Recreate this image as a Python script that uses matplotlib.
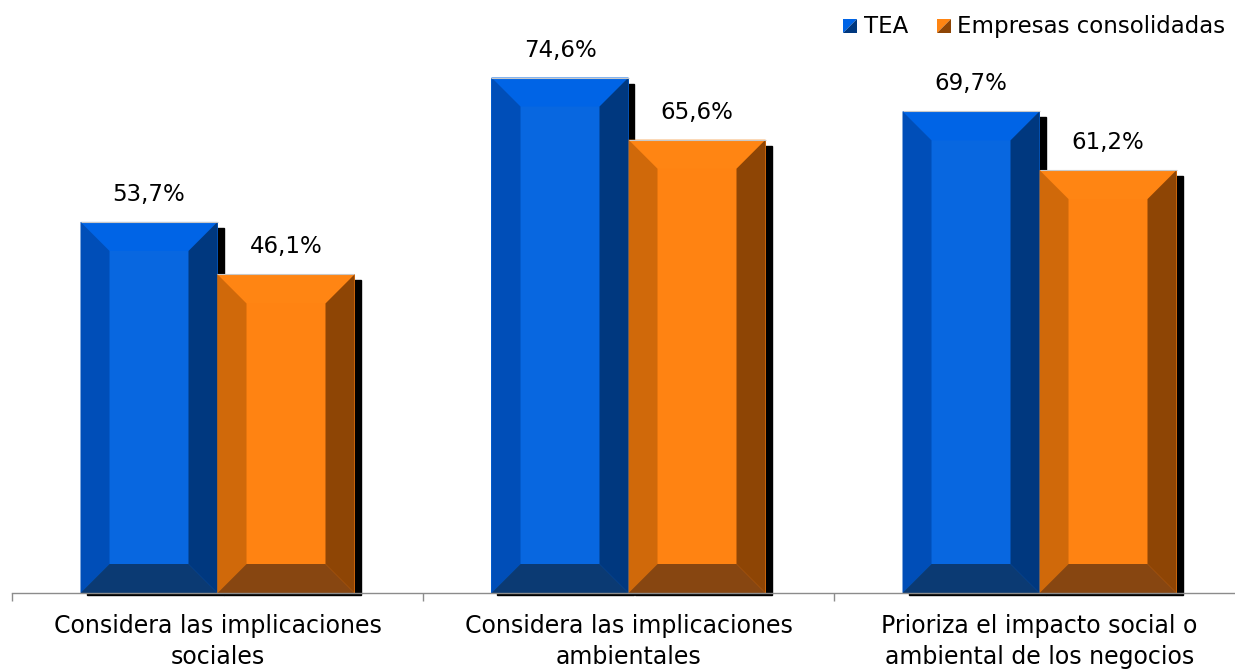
import matplotlib
matplotlib.use("Agg")
import matplotlib.pyplot as plt
from matplotlib.patches import Polygon, Rectangle
import numpy as np

categories = ["Considera las implicaciones\nsociales",
              "Considera las implicaciones\nambientales",
              "Prioriza el impacto social o\nambiental de los negocios"]
series_names = ["TEA", "Empresas consolidadas"]
tea = [53.7, 74.6, 69.7]
consolidadas = [46.1, 65.6, 61.2]
value_labels_tea = ["53,7%", "74,6%", "69,7%"]
value_labels_cons = ["46,1%", "65,6%", "61,2%"]

# colour sets: front, top, left, right, bottom
blue = dict(front="#0867E0", top="#0064E6", left="#004EB8", right="#00387F", bottom="#0B3A73")
orange = dict(front="#FF8312", top="#FF8513", left="#D0690A", right="#8E4505", bottom="#874611")

FONT = "DejaVu Sans"
plt.rcParams["font.family"] = [FONT]

W, H, DPI = 1235, 669, 100
fig = plt.figure(figsize=(W / DPI, H / DPI), dpi=DPI)
left_px, right_px, base_px = 12, 12 + 3 * 411, 593
ax = fig.add_axes([left_px / W, (H - base_px) / H, (right_px - left_px) / W, base_px / H])
ax.set_xlim(0, 3)
ax.set_ylim(0, 593 / 6.91)
ax.set_facecolor("none")
for s in ["top", "right", "left"]:
    ax.spines[s].set_visible(False)
ax.spines["bottom"].set_color("#8c8c8c")
ax.spines["bottom"].set_linewidth(1.0)
ax.spines["bottom"].set_zorder(7)
ax.set_yticks([])
ax.set_xticks([0, 1, 2, 3])
ax.set_xticklabels([])
ax.tick_params(axis="x", which="major", length=6, color="#8c8c8c", width=1.0, direction="out")
ax.set_xticks([0.5, 1.5, 2.5], minor=True)
ax.set_xticklabels(categories, minor=True, fontsize=17, linespacing=1.38)
ax.tick_params(axis="x", which="minor", length=0, pad=15)

x = np.arange(3) + 0.5
bw = 1 / 3
px_x = (right_px - left_px) / 3.0   # pixels per x unit
px_y = 6.91                         # pixels per y unit
bev = 29
bx, by = bev / px_x, bev / px_y
sx, sy = 6 / px_x, 2 / px_y

def draw(xc, vals, cols, labels):
    bars = ax.bar(xc, vals, width=bw, color=cols["front"], edgecolor="none", zorder=3)
    for b, lab in zip(bars, labels):
        x0, y0 = b.get_x(), b.get_y()
        w, h = b.get_width(), b.get_height()
        x1, y1 = x0 + w, y0 + h
        ax.add_patch(Rectangle((x0 + sx, y0 - sy), w, h - 4 / px_y, color="black", zorder=2, clip_on=False))
        polys = [
            ([(x0, y1), (x1, y1), (x1 - bx, y1 - by), (x0 + bx, y1 - by)], cols["top"]),
            ([(x0, y0), (x0 + bx, y0 + by), (x0 + bx, y1 - by), (x0, y1)], cols["left"]),
            ([(x1, y0), (x1, y1), (x1 - bx, y1 - by), (x1 - bx, y0 + by)], cols["right"]),
            ([(x0, y0), (x1, y0), (x1 - bx, y0 + by), (x0 + bx, y0 + by)], cols["bottom"]),
        ]
        for pts, c in polys:
            ax.add_patch(Polygon(pts, closed=True, facecolor=c, edgecolor="none", zorder=4))
        ax.plot([x0, x1], [y1, y1], color="#c8c8c8", lw=0.8, zorder=5, solid_capstyle="butt")
        ax.annotate(lab, (x0 + w / 2, y1), xytext=(0, 16), textcoords="offset pixels",
                    ha="center", va="bottom", fontsize=16.5, color="black", zorder=6)

draw(x - bw / 2, tea, blue, value_labels_tea)
draw(x + bw / 2, consolidadas, orange, value_labels_cons)

# legend (manual, in figure pixels)
def legend_item(px, label, cols, tx):
    s = 14
    y_top = 19
    x0, x1 = px / W, (px + s) / W
    y0, y1 = (H - y_top - s) / H, (H - y_top) / H
    fig.patches.append(Polygon([(x0, y1), (x1, y1), (x0, y0)], closed=True,
                               facecolor=cols["top"], edgecolor="none", transform=fig.transFigure))
    fig.patches.append(Polygon([(x1, y1), (x1, y0), (x0, y0)], closed=True,
                               facecolor=cols["right"], edgecolor="none", transform=fig.transFigure))
    fig.text(tx / W, (H - 33) / H, label, ha="left", va="baseline", fontsize=16.5, color="black")

legend_item(843, series_names[0], blue, 864)
legend_item(937, series_names[1], orange, 957)

fig.savefig("out.png", dpi=DPI)
